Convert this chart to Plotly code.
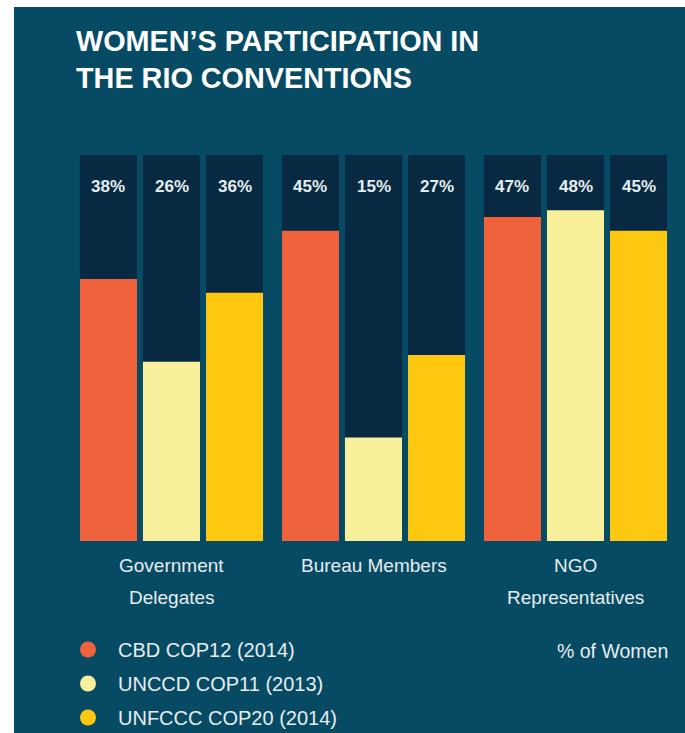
import plotly.graph_objects as go

# ---- data ----
categories = ["Government Delegates", "Bureau Members", "NGO Representatives"]
category_lines = [["Government", "Delegates"], ["Bureau Members"], ["NGO", "Representatives"]]
series_names = ["CBD COP12 (2014)", "UNCCD COP11 (2013)", "UNFCCC COP20 (2014)"]
cbd_values = [38, 45, 47]
unccd_values = [26, 15, 48]
unfccc_values = [36, 27, 45]
full_scale = [56, 56, 56]  # height of the dark backing column

series_values = [cbd_values, unccd_values, unfccc_values]
series_colors = ["#f0623b", "#f8ef9a", "#fdc80f"]

BG = "#074a63"
DARK = "#072a42"
TEXT = "#e6edf0"
FONT = "Liberation Sans, Arial, sans-serif"

W, H = 685, 733
BARGAP = 0.064
GROUPGAP = 0.095

fig = go.Figure()

for i, (name, vals, col) in enumerate(zip(series_names, series_values, series_colors)):
    fig.add_trace(go.Bar(
        x=categories, y=full_scale, marker=dict(color=DARK, line=dict(width=0)),
        offsetgroup=str(i), showlegend=False, hoverinfo="skip"))
    fig.add_trace(go.Bar(
        x=categories, y=vals, name=name, marker=dict(color=col, line=dict(width=0)),
        offsetgroup=str(i), showlegend=False))
    # legend entry as a circle
    fig.add_trace(go.Scatter(
        x=[None], y=[None], mode="markers", name=name, legendgroup=name,
        marker=dict(color=col, size=19, symbol="circle"), showlegend=True))

annotations = []
slot = (1 - BARGAP) / 3
for i, vals in enumerate(series_values):
    for c, v in enumerate(vals):
        annotations.append(dict(
            x=c + (i - 1) * slot, y=full_scale[c], xref="x", yref="y",
            text=f"{v}%", showarrow=False, yanchor="middle", yshift=-31,
            font=dict(family=FONT, size=17, color=TEXT, weight="bold")))

for c, lines in enumerate(category_lines):
    for k, line in enumerate(lines):
        annotations.append(dict(
            x=c, y=0, xref="x", yref="y", text=line, showarrow=False,
            yanchor="middle", yshift=-24 - 32 * k,
            font=dict(family=FONT, size=19, color=TEXT)))

annotations.append(dict(
    x=670 / W, y=1 - 651 / H, xref="paper", yref="paper", text="% of Women",
    showarrow=False, xanchor="right", yanchor="middle",
    font=dict(family=FONT, size=19.5, color=TEXT)))

annotations.append(dict(
    x=74 / W, y=1 - 23 / H, xref="paper", yref="paper",
    text="WOMEN’S PARTICIPATION IN<br>THE RIO CONVENTIONS",
    showarrow=False, xanchor="left", yanchor="top", align="left",
    font=dict(family=FONT, size=28.8, color="#ffffff", weight="bold")))

fig.update_layout(
    width=W, height=H,
    margin=dict(l=0, r=0, t=0, b=0, autoexpand=False),
    paper_bgcolor="#ffffff",
    plot_bgcolor="rgba(0,0,0,0)",
    barmode="group", bargap=BARGAP, bargroupgap=GROUPGAP,
    xaxis=dict(domain=[70.5 / W, 676.5 / W], showticklabels=False, showgrid=False,
               zeroline=False, showline=False, ticks="", range=[-0.5, 2.5]),
    yaxis=dict(domain=[1 - 541 / H, 1 - 155 / H], range=[0, 56], showticklabels=False,
               showgrid=False, zeroline=False, showline=False, ticks=""),
    shapes=[dict(type="rect", xref="paper", yref="paper", x0=14 / W, x1=1,
                 y0=0, y1=1 - 7 / H, fillcolor=BG, line=dict(width=0), layer="below")],
    annotations=annotations,
    showlegend=True,
    legend=dict(x=58 / W, y=1 - 630 / H, xanchor="left", yanchor="top",
                bgcolor="rgba(0,0,0,0)", itemwidth=50, tracegroupgap=5,
                font=dict(family=FONT, size=20, color=TEXT)),
)

fig.write_html("out.html")
